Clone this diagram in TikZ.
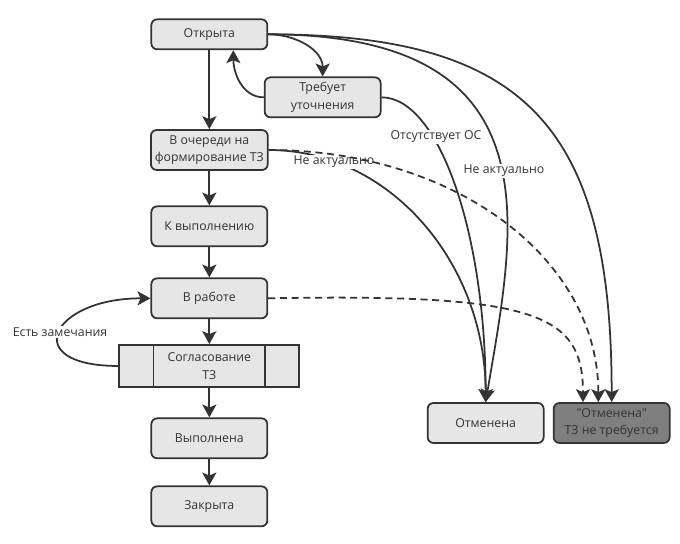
\documentclass[tikz,border=0pt]{standalone}
\usepackage{fontspec}
\setmainfont{Open Sans}[Ligatures=TeXOff]
\usepackage{xcolor}
\usetikzlibrary{arrows.meta}

\definecolor{linecol}{HTML}{333333}
\definecolor{boxfill}{HTML}{E6E6E6}
\definecolor{darkfill}{HTML}{7F7F7F}

\tikzset{
  state/.style={draw=linecol, fill=boxfill, line width=1.5pt, rounded corners=5pt,
    minimum width=3.48cm, minimum height=1.2cm, align=center, text=linecol,
    font=\fontsize{10.5}{15}\selectfont},
  flow/.style={draw=linecol, line width=1.5pt, -{Stealth[length=11pt,width=12pt,inset=2.5pt]}},
  note/.style={text=linecol, fill=white, inner sep=1pt, font=\fontsize{10.5}{12}\selectfont},
}

\begin{document}
\begin{tikzpicture}
    \useasboundingbox (0,0) rectangle (20.4,16.32);

    % states
    \node[state, minimum height=0.9cm] (otkryta) at (6.28,15.29) {Открыта};
    \node[state] (trebuet) at (9.68,13.40) {Требует\\уточнения};
    \node[state] (ochered) at (6.28,11.82) {В очереди на\\формирование ТЗ};
    \node[state] (kvypoln) at (6.28,9.53) {К выполнению};
    \node[state] (vrabote) at (6.28,7.37) {В работе};
    \node[state, rounded corners=0pt, minimum width=5.4cm, minimum height=1.26cm] (soglas) at (6.28,5.34) {Согласование\\ТЗ};
    \draw[linecol, line width=1.5pt] ([xshift=1.05cm]soglas.north west) -- ([xshift=1.05cm]soglas.south west);
    \draw[linecol, line width=1.5pt] ([xshift=-1.05cm]soglas.north east) -- ([xshift=-1.05cm]soglas.south east);
    \node[state] (vypoln) at (6.28,3.17) {Выполнена};
    \node[state] (zakryta) at (6.28,1.13) {Закрыта};
    \node[state] (otmenena) at (14.57,3.63) {Отменена};
    \node[state, fill=darkfill] (otmTZ) at (18.35,3.63) {"Отменена"\\ТЗ не требуется};

    % main column
    \draw[flow] (otkryta) -- (ochered);
    \draw[flow] (ochered) -- (kvypoln);
    \draw[flow] (kvypoln) -- (vrabote);
    \draw[flow] (vrabote) -- (soglas);
    \draw[flow] (soglas) -- (vypoln);
    \draw[flow] (vypoln) -- (zakryta);

    \draw[flow] (otkryta.east) to[out=0,in=90] (trebuet.north);
    \draw[flow] (trebuet.west) to[out=180,in=-90] ([xshift=0.72cm]otkryta.south);

    % cancel
    \draw[flow] (otkryta.east) .. controls +(8.76,0) and +(0.87,5.19) .. (otmenena.north);
    \draw[flow] (otkryta.east) .. controls +(7.71,0) and +(0,8.28) .. (otmTZ.north);
    \draw[flow] (trebuet.east) .. controls +(1.72,0) and +(0,5.07) .. (otmenena.north);
    \draw[flow] (ochered.east) .. controls +(3.62,0) and +(0,4.19) .. (otmenena.north);
    \draw[flow] (soglas.west) .. controls +(-3,0) and +(-3,0) .. (vrabote.west);

    \node[note] (nosOS) at (13.08,12.21) {Отсутствует ОС};
    \node[note] (neakt1) at (10.02,11.46) {Не актуально};
    \node[note] (neakt2) at (15.12,11.19) {Не актуально};
    \node[note] (zamech) at (1.8,6.36) {Есть замечания};

    \draw[flow, dash pattern=on 6pt off 4pt] (ochered.east) .. controls +(5.6,0) and +(0,4.3) .. ([xshift=-0.4cm]otmTZ.north);
    \draw[flow, dash pattern=on 6pt off 4pt] (vrabote.east) .. controls +(8.05,0.15) and +(0,2.65) .. ([xshift=-0.86cm]otmTZ.north);
\end{tikzpicture}
\end{document}
